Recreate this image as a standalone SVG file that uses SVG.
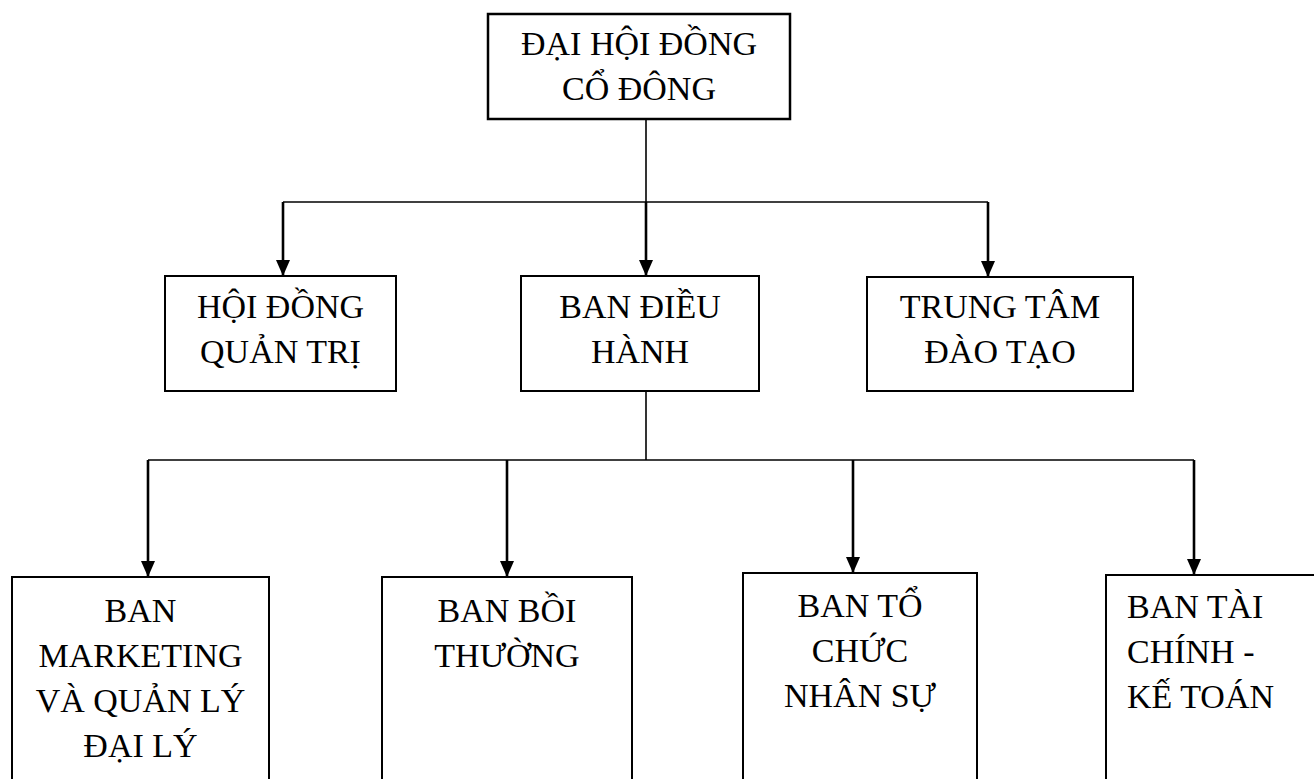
<svg xmlns="http://www.w3.org/2000/svg" width="1314" height="779" viewBox="0 0 1314 779">
<style>
.box{fill:#fff;stroke:#000;stroke-width:2}
.t{font-family:"Liberation Serif","Times New Roman",serif;font-size:34px;fill:#000;text-anchor:middle}
.tl{font-family:"Liberation Serif","Times New Roman",serif;font-size:34px;fill:#000;text-anchor:start}
.ln{fill:none;stroke:#000;stroke-width:1.6}
.ar{fill:none;stroke:#000;stroke-width:2.6}
</style>
<defs>
<marker id="ah" markerUnits="userSpaceOnUse" markerWidth="16" markerHeight="16" viewBox="0 0 16 16" refX="8" refY="16" orient="0">
<path d="M1,0 L15,0 L8,16 Z" fill="#000"/>
</marker>
</defs>
<g id="connectors">
<line class="ln" x1="646" y1="119" x2="646" y2="202"/>
<polyline class="ln" points="283,202 988,202"/>
<line class="ar" x1="283" y1="202" x2="283" y2="276" marker-end="url(#ah)"/>
<line class="ar" x1="646" y1="202" x2="646" y2="276" marker-end="url(#ah)"/>
<line class="ar" x1="988" y1="202" x2="988" y2="277" marker-end="url(#ah)"/>
<line class="ln" x1="646" y1="391" x2="646" y2="460"/>
<polyline class="ln" points="148,460 1194,460"/>
<line class="ar" x1="148" y1="460" x2="148" y2="577" marker-end="url(#ah)"/>
<line class="ar" x1="507" y1="460" x2="507" y2="577" marker-end="url(#ah)"/>
<line class="ar" x1="853" y1="460" x2="853" y2="573" marker-end="url(#ah)"/>
<line class="ar" x1="1194" y1="460" x2="1194" y2="575" marker-end="url(#ah)"/>
</g>
<g id="n-dhdcd">
<rect class="box" x="488" y="14" width="302" height="105" style="stroke-width:2.5"/>
<text class="t" x="639" y="55">ĐẠI HỘI ĐỒNG</text>
<text class="t" x="639" y="100">CỔ ĐÔNG</text>
</g>
<g id="n-hdqt">
<rect class="box" x="165" y="276" width="231" height="115"/>
<text class="t" x="280.5" y="318">HỘI ĐỒNG</text>
<text class="t" x="280.5" y="363">QUẢN TRỊ</text>
</g>
<g id="n-bdh">
<rect class="box" x="521" y="276" width="238" height="115"/>
<text class="t" x="640" y="318">BAN ĐIỀU</text>
<text class="t" x="640" y="363">HÀNH</text>
</g>
<g id="n-ttdt">
<rect class="box" x="867" y="277" width="266" height="114"/>
<text class="t" x="1000" y="318">TRUNG TÂM</text>
<text class="t" x="1000" y="363">ĐÀO TẠO</text>
</g>
<g id="n-mkt">
<rect class="box" x="12" y="577" width="257" height="230"/>
<text class="t" x="140.5" y="622">BAN</text>
<text class="t" x="140.5" y="667">MARKETING</text>
<text class="t" x="140.5" y="712">VÀ QUẢN LÝ</text>
<text class="t" x="140.5" y="757">ĐẠI LÝ</text>
</g>
<g id="n-bt">
<rect class="box" x="382" y="577" width="250" height="230"/>
<text class="t" x="507" y="622">BAN BỒI</text>
<text class="t" x="507" y="667">THƯỜNG</text>
</g>
<g id="n-tcns">
<rect class="box" x="743" y="573" width="234" height="230"/>
<text class="t" x="860" y="617">BAN TỔ</text>
<text class="t" x="860" y="662">CHỨC</text>
<text class="t" x="860" y="707">NHÂN SỰ</text>
</g>
<g id="n-tckt">
<rect class="box" x="1106" y="575" width="230" height="230"/>
<text class="tl" x="1127" y="618">BAN TÀI</text>
<text class="tl" x="1127" y="663">CHÍNH -</text>
<text class="tl" x="1127" y="708">KẾ TOÁN</text>
</g>
</svg>
